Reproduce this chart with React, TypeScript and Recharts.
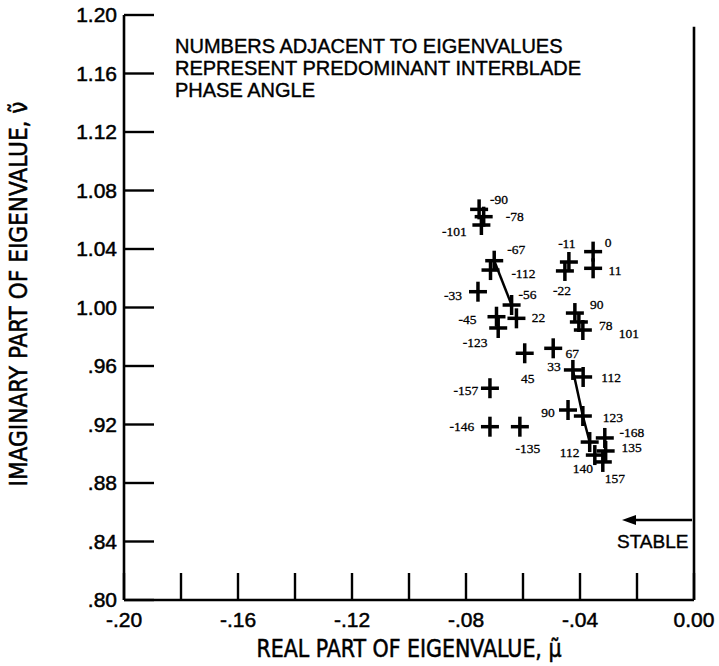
import React from 'react';
import {
  ComposedChart,
  Scatter,
  XAxis,
  YAxis,
  ReferenceLine,
  Customized,
} from 'recharts';

// ---- data ----
const realParts = [
  -0.0754, -0.0738, -0.0746, -0.0701, -0.0714, -0.0640, -0.0758, -0.0693,
  -0.0687, -0.0623, -0.0594, -0.0494, -0.0425, -0.0716, -0.0716, -0.0611,
  -0.0442, -0.0354, -0.0354, -0.0439, -0.0453, -0.0418, -0.0404, -0.0390,
  -0.0389, -0.0390, -0.0313, -0.0366, -0.0310, -0.0348, -0.0320,
];
const imagParts = [
  1.0671, 1.0621, 1.0564, 1.0320, 1.0256, 1.0017, 1.0108, 0.9937,
  0.9860, 0.9926, 0.9687, 0.9721, 0.9573, 0.9448, 0.9185, 0.9185,
  0.9299, 1.0382, 1.0268, 1.0311, 1.0250, 0.9962, 0.9901, 0.9846,
  0.9525, 0.9258, 0.9108, 0.9080, 0.9019, 0.8991, 0.8944,
];
const phaseAngles = [
  '-90', '-78', '-101', '-67', '-112', '-56', '-33', '-45',
  '-123', '22', '45', '67', '33', '-157', '-146', '-135',
  '90', '0', '11', '-11', '-22', '90', '78', '101',
  '112', '123', '-168', '112', '135', '140', '157',
];
// indices of eigenvalues joined by the drawn lines
const track1 = [3, 5];
const track2 = [12, 25, 27];

const xTicks = [-0.2, -0.18, -0.16, -0.14, -0.12, -0.1, -0.08, -0.06, -0.04, -0.02, 0];
const xLabeledTicks = [-0.2, -0.16, -0.12, -0.08, -0.04, 0];
const xTickLabels = ['-.20', '-.16', '-.12', '-.08', '-.04', '0.00'];
const yTicks = [0.8, 0.84, 0.88, 0.92, 0.96, 1.0, 1.04, 1.08, 1.12, 1.16, 1.2];
const yTickLabels = ['.80', '.84', '.88', '.92', '.96', '1.00', '1.04', '1.08', '1.12', '1.16', '1.20'];

// label placement relative to each marker (px) - layout only
const labelOffsets: [number, number][] = [
  [20, -10], [31, 0], [-27, 6], [22, -11], [33, 3], [16, -11], [-25, 4], [-29, 3],
  [-23, 15], [22, -1], [3, 25], [19, 5], [-19, -3], [-24, 2], [-28, 0], [8, 22],
  [-20, 2], [15, -9], [22, 2], [-2, -19], [-3, 20], [22, -9], [27, 4], [46, 3],
  [28, 1], [30, 1], [27, -5], [-20, 10], [26, -3], [-12, 13], [12, 17],
];

const points = realParts.map((x, i) => ({ x, y: imagParts[i], label: phaseAngles[i], idx: i }));
const line1 = track1.map((i) => points[i]);
const line2 = track2.map((i) => points[i]);

const SANS = "'Liberation Sans', Arial, sans-serif";
const NARROW = "'Liberation Sans Narrow', 'DejaVu Sans Condensed', 'Liberation Sans', sans-serif";
const SERIF = "'Liberation Serif', 'Times New Roman', serif";

const PlusMarker = (props: any) => {
  const { cx, cy, payload } = props;
  if (cx == null || cy == null) return <g />;
  const [dx, dy] = labelOffsets[payload.idx] || [15, 0];
  return (
    <g>
      <line x1={cx - 9} y1={cy} x2={cx + 9} y2={cy} stroke="#000" strokeWidth={3.5} />
      <line x1={cx} y1={cy - 10} x2={cx} y2={cy + 10} stroke="#000" strokeWidth={3.5} />
      <text
        x={cx + dx}
        y={cy + dy}
        textAnchor="middle"
        dominantBaseline="central"
        fontFamily={SERIF}
        fontSize={13.5}
        fill="#000"
        stroke="#000"
        strokeWidth={0.3}
      >
        {payload.label}
      </text>
    </g>
  );
};

const XTick = (props: any) => {
  const { x, y, payload } = props;
  const v = payload.value;
  const li = xLabeledTicks.findIndex((t) => Math.abs(t - v) < 1e-6);
  return (
    <g>
      <line x1={x} y1={y} x2={x} y2={y - 27} stroke="#000" strokeWidth={2.4} />
      {li >= 0 && (
        <text
          x={x}
          y={y + 27}
          textAnchor="middle"
          fontFamily={SANS}
          fontSize={21}
          fill="#000"
          stroke="#000"
          strokeWidth={0.5}
        >
          {xTickLabels[li]}
        </text>
      )}
    </g>
  );
};

const YTick = (props: any) => {
  const { x, y, payload } = props;
  const v = payload.value;
  const li = yTicks.findIndex((t) => Math.abs(t - v) < 1e-6);
  return (
    <g>
      <line x1={x} y1={y} x2={x + 30} y2={y} stroke="#000" strokeWidth={2.4} />
      <text
        x={x - 7}
        y={y + 7}
        textAnchor="end"
        fontFamily={SANS}
        fontSize={21}
        fill="#000"
        stroke="#000"
        strokeWidth={0.5}
      >
        {li >= 0 ? yTickLabels[li] : ''}
      </text>
    </g>
  );
};

const Annotations = () => (
  <g fill="#000">
    <g fontFamily={SANS} fontSize={20} stroke="#000" strokeWidth={0.4}>
      <text x={175} y={53}>NUMBERS ADJACENT TO EIGENVALUES</text>
      <text x={175} y={75}>REPRESENT PREDOMINANT INTERBLADE</text>
      <text x={175} y={97}>PHASE ANGLE</text>
      <text x={617} y={548} fontSize={19}>STABLE</text>
    </g>
    <line x1={630} y1={520} x2={692} y2={520} stroke="#000" strokeWidth={2.5} />
    <polygon points="622,520 636,515 636,525" fill="#000" />
    <text
      x={409}
      y={657}
      textAnchor="middle"
      fontFamily={NARROW}
      fontSize={24}
      textLength={305}
      lengthAdjust="spacingAndGlyphs"
      stroke="#000"
      strokeWidth={0.5}
    >
      {'REAL PART OF EIGENVALUE, \u03BC\u0303'}
    </text>
    <text
      x={27}
      y={294}
      textAnchor="middle"
      fontFamily={NARROW}
      fontSize={24}
      textLength={385}
      lengthAdjust="spacingAndGlyphs"
      stroke="#000"
      strokeWidth={0.5}
      transform="rotate(-90, 27, 294)"
    >
      {'IMAGINARY PART OF EIGENVALUE, \u03BD\u0303'}
    </text>
  </g>
);

export default function App() {
  return (
    <div style={{ position: 'absolute', left: 0, top: 0, background: '#fff' }}>
      <ComposedChart
        width={719}
        height={666}
        margin={{ top: 15, right: 25, bottom: 0, left: 0 }}
        style={{ background: '#fff' }}
      >
        <XAxis
          type="number"
          dataKey="x"
          domain={[-0.2, 0]}
          ticks={xTicks}
          interval={0}
          allowDataOverflow
          height={66}
          tickSize={0}
          tickMargin={0}
          tickLine={false}
          tick={(p: any) => <XTick {...p} />}
          axisLine={{ stroke: '#000', strokeWidth: 2.6 }}
        />
        <YAxis
          type="number"
          dataKey="y"
          domain={[0.8, 1.2]}
          ticks={yTicks}
          interval={0}
          allowDataOverflow
          width={124}
          tickSize={0}
          tickMargin={0}
          tickLine={false}
          tick={(p: any) => <YTick {...p} />}
          axisLine={{ stroke: '#000', strokeWidth: 2.6 }}
        />
        <ReferenceLine
          segment={[{ x: 0, y: 1.192 }, { x: 0, y: 0.8 }]}
          stroke="#000"
          strokeWidth={2.6}
        />
        <Scatter
          data={line1}
          line={{ stroke: '#000', strokeWidth: 2.5 }}
          lineType="joint"
          shape={() => <g />}
          isAnimationActive={false}
        />
        <Scatter
          data={line2}
          line={{ stroke: '#000', strokeWidth: 2.5 }}
          lineType="joint"
          shape={() => <g />}
          isAnimationActive={false}
        />
        <Scatter data={points} shape={(p: any) => <PlusMarker {...p} />} isAnimationActive={false} />
        <Customized component={Annotations} />
      </ComposedChart>
    </div>
  );
}
